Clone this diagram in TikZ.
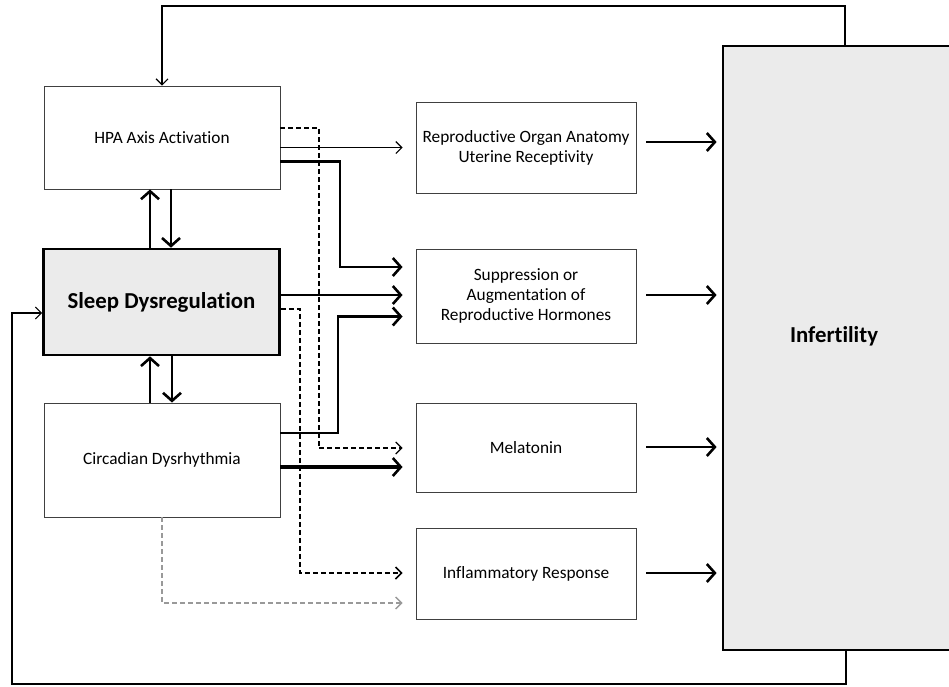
\documentclass[tikz,border=0pt]{standalone}
\usepackage{fontspec}
\setmainfont{Carlito}[Ligatures=NoCommon]
\usetikzlibrary{arrows.meta,calc}

\tikzset{
  box/.style={draw=black!75, line width=0.9pt, fill=white, minimum width=236pt,
    align=center, inner sep=2pt, font=\fontsize{17.3}{20}\selectfont},
  midbox/.style={box, minimum width=220pt},
  thinarr/.style={draw=black, line width=1.1pt, -{Straight Barb[length=6pt,width=12pt]}},
  thickarr/.style={draw=black, line width=2.8pt, -{Straight Barb[length=8pt,width=18pt,line width=2.6pt]}},
  dasharr/.style={draw=black, line width=1.5pt, dash pattern=on 5pt off 3pt,
    -{Straight Barb[length=6pt,width=12pt]}},
  greyarr/.style={dasharr, draw=black!40, line width=1.3pt},
  loopline/.style={draw=black, line width=1.1pt, -{Straight Barb[length=6pt,width=12pt]}},
  bigtext/.style={font=\fontsize{22.8}{26}\selectfont\bfseries}
}

\begin{document}
\begin{tikzpicture}[x=1pt,y=-1pt]
\useasboundingbox (0,0) rectangle (949,686);
\clip (0,0) rectangle (949,686);

% left column
\node[box, minimum height=103pt] (hpa) at (162,137.5) {HPA Axis Activation};
\node[box, minimum height=106pt, line width=2.6pt, draw=black, fill=black!8, bigtext]
  (sleep) at (161.5,302) {Sleep Dysregulation};
\node[box, minimum height=114pt] (circ) at (162,460) {Circadian Dysrhythmia};

% middle column
\node[midbox, minimum height=91pt] (repro) at (526,147.5)
  {Reproductive Organ Anatomy\\Uterine Receptivity};
\node[midbox, minimum height=94pt] (supp) at (526,296)
  {Suppression or\\Augmentation of\\Reproductive Hormones};
\node[midbox, minimum height=89pt] (mel) at (526,447.5) {Melatonin};
\node[midbox, minimum height=91pt] (infl) at (526,573.5) {Inflammatory Response};

% outcome
\node[draw=black, line width=2.8pt, fill=black!8, minimum width=240pt, minimum height=604pt]
  (inf) at (843,348) {};
\node[bigtext] (inflabel) at (834,336) {Infertility};

% helper points for routed connectors
\coordinate (tA) at (162,6);
\coordinate (tB) at (845,6);
\coordinate (bA) at (12,684);
\coordinate (bB) at (846,684);
\coordinate (hd) at (319,128);
\coordinate (hs) at (340,161.5);
\coordinate (sd) at (300,309);
\coordinate (cs) at (338,433);
\coordinate (cg) at (162,603);

% feedback loops
\draw[loopline] (inf.north -| tB) -- (tB) -- (tA) -- (hpa.north -| tA);
\draw[loopline] (inf.south -| bB) -- (bB) -- (bA) |- (sleep.west |- 0,313);

% left column two-way links
\draw[thickarr] (sleep.north -| 150,0) -- (hpa.south -| 150,0);
\draw[thickarr] (hpa.south -| 171,0) -- (sleep.north -| 171,0);
\draw[thickarr] (circ.north -| 150,0) -- (sleep.south -| 150,0);
\draw[thickarr] (sleep.south -| 172,0) -- (circ.north -| 172,0);

% HPA outputs
\draw[thinarr, shorten >=13pt] (hpa.east |- repro.west) -- (repro.west);
\draw[dasharr, line width=1.6pt, -] (hpa.east |- hd) -- (hd) -- (hd |- 0,448);
\draw[dasharr, line width=1.2pt, shorten >=13pt] (hd |- 0,448) -- (mel.west |- 0,448);
\draw[thickarr, line width=2.4pt, shorten >=13pt] (hpa.east |- hs) -- (hs) |- (supp.west |- 0,267);

% sleep outputs
\draw[thickarr, shorten >=13pt] (sleep.east |- 0,295) -- (supp.west |- 0,295);
\draw[dasharr, shorten >=13pt] (sleep.east |- sd) -- (sd) |- (infl.west |- 0,573);

% circadian outputs
\draw[thickarr, shorten >=13pt] (circ.east |- cs) -- (cs) |- (supp.west |- 0,316.5);
\draw[thickarr, line width=3.4pt, shorten >=13pt] (circ.east |- 0,467) -- (mel.west |- 0,467);
\draw[greyarr, shorten >=13pt] (circ.south -| cg) -- (cg) -- (infl.west |- cg);

% into infertility
\draw[thickarr, shorten <=10pt, shorten >=5pt] ([yshift=5.5pt]repro.east) -- (inf.west |- 0,142);
\draw[thickarr, shorten <=10pt, shorten >=5pt] (supp.east |- 0,295) -- (inf.west |- 0,295);
\draw[thickarr, shorten <=10pt, shorten >=5pt] (mel.east |- 0,447) -- (inf.west |- 0,447);
\draw[thickarr, shorten <=10pt, shorten >=5pt] (infl.east |- 0,573) -- (inf.west |- 0,573);
\end{tikzpicture}
\end{document}
